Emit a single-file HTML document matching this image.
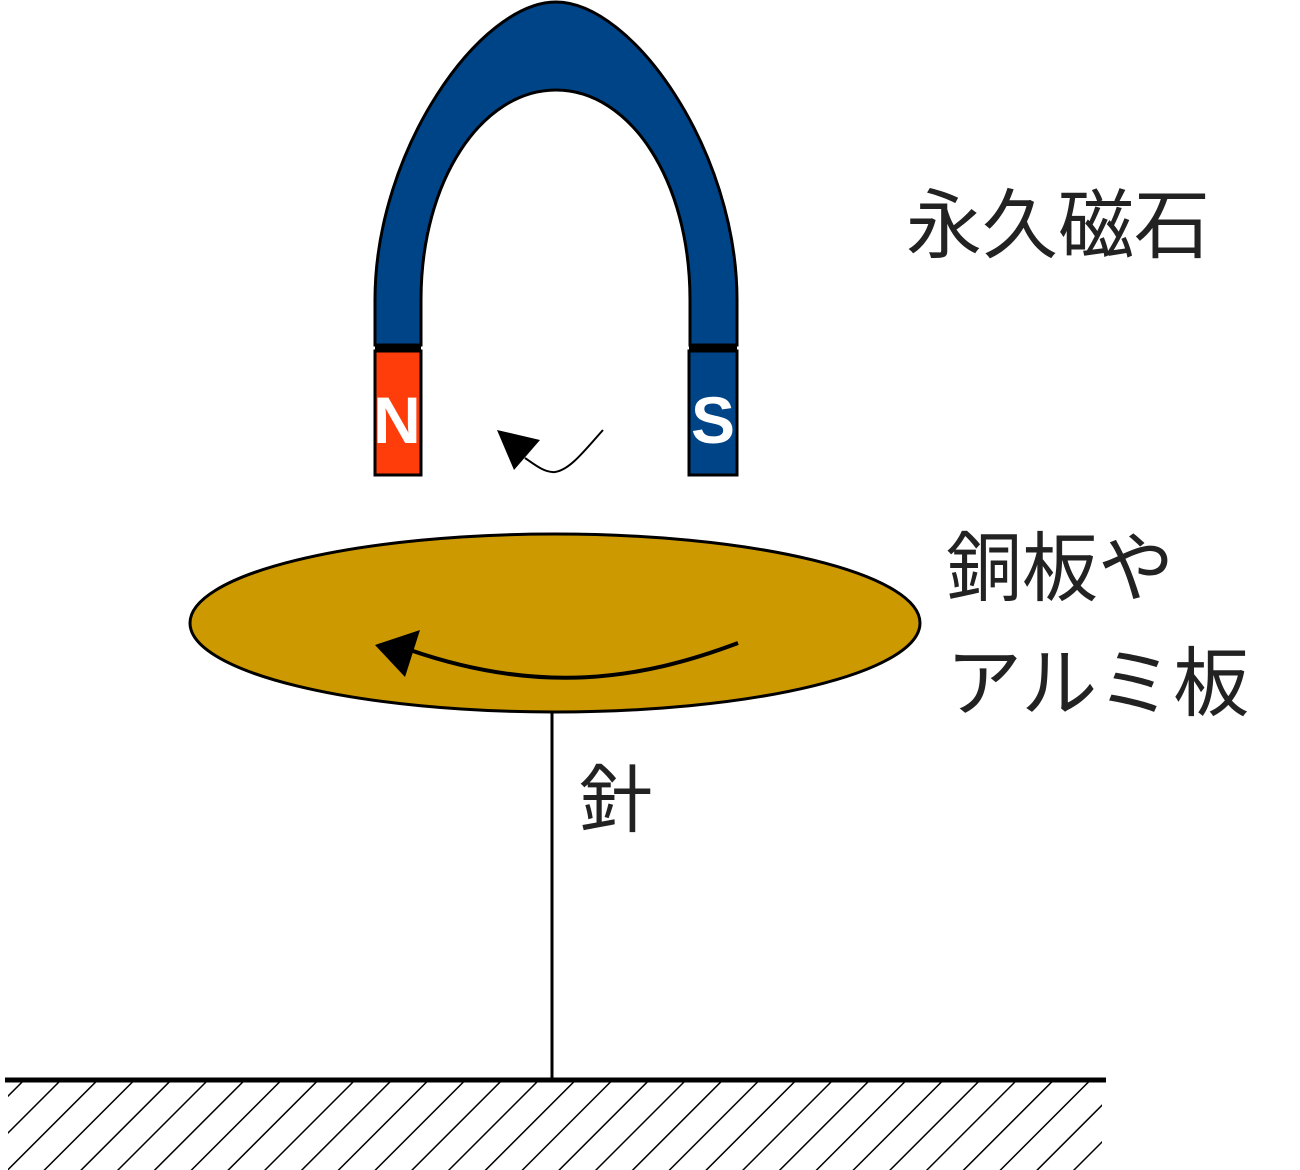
<!DOCTYPE html>
<html><head><meta charset="utf-8"><style>
html,body{margin:0;padding:0;background:#fff;width:1300px;height:1170px;overflow:hidden}
svg{display:block}
text{font-family:"Liberation Sans","Noto Sans CJK JP",sans-serif}
</style></head><body>
<svg width="1300" height="1170" viewBox="0 0 1300 1170" xmlns="http://www.w3.org/2000/svg">
<defs>
<pattern id="h" width="26" height="26" patternUnits="userSpaceOnUse" patternTransform="rotate(45)">
<line x1="0" y1="0" x2="0" y2="26" stroke="#000" stroke-width="3"/>
</pattern>
</defs>
<rect x="8" y="1082" width="1094" height="90" fill="url(#h)"/>
<line x1="5" y1="1080" x2="1106" y2="1080" stroke="#000" stroke-width="5"/>
<line x1="552" y1="712" x2="552" y2="1080" stroke="#000" stroke-width="3"/>
<path d="M375,345 L375,300 C375,150 480,2 556,2 C632,2 737,150 737,300 L737,345 L690,345 L690,300 C690,180 630,90 556,90 C482,90 421,180 421,300 L421,345 Z" fill="#004488" stroke="#000" stroke-width="3"/>
<rect x="375" y="345" width="46" height="6" fill="#000"/>
<rect x="689" y="345" width="48" height="6" fill="#000"/>
<rect x="375" y="351" width="46" height="124" fill="#ff3d0a" stroke="#000" stroke-width="3"/>
<rect x="689" y="351" width="48" height="124" fill="#004488" stroke="#000" stroke-width="3"/>
<text x="397" y="443" font-size="66" font-weight="bold" fill="#fff" text-anchor="middle">N</text>
<text x="713" y="443" font-size="66" font-weight="bold" fill="#fff" text-anchor="middle">S</text>
<path d="M603,430 C585,450 570,470 555,472 C545,473 535,465 525,458" fill="none" stroke="#000" stroke-width="2"/>
<polygon points="497,430 540,440 514,470" fill="#000"/>
<ellipse cx="555" cy="623" rx="365" ry="89" fill="#cc9900" stroke="#000" stroke-width="3"/>
<path d="M738,643 C640,680 540,695 410,650" fill="none" stroke="#000" stroke-width="4"/>
<polygon points="375,645 420,630 405,677" fill="#000"/>
<text x="906" y="252" font-size="76" fill="#222">永久磁石</text>
<text x="946" y="595" font-size="76" fill="#222">銅板や</text>
<text x="946" y="710" font-size="76" fill="#222">アルミ板</text>
<text x="579" y="826" font-size="74" fill="#222">針</text>
</svg>
</body></html>
